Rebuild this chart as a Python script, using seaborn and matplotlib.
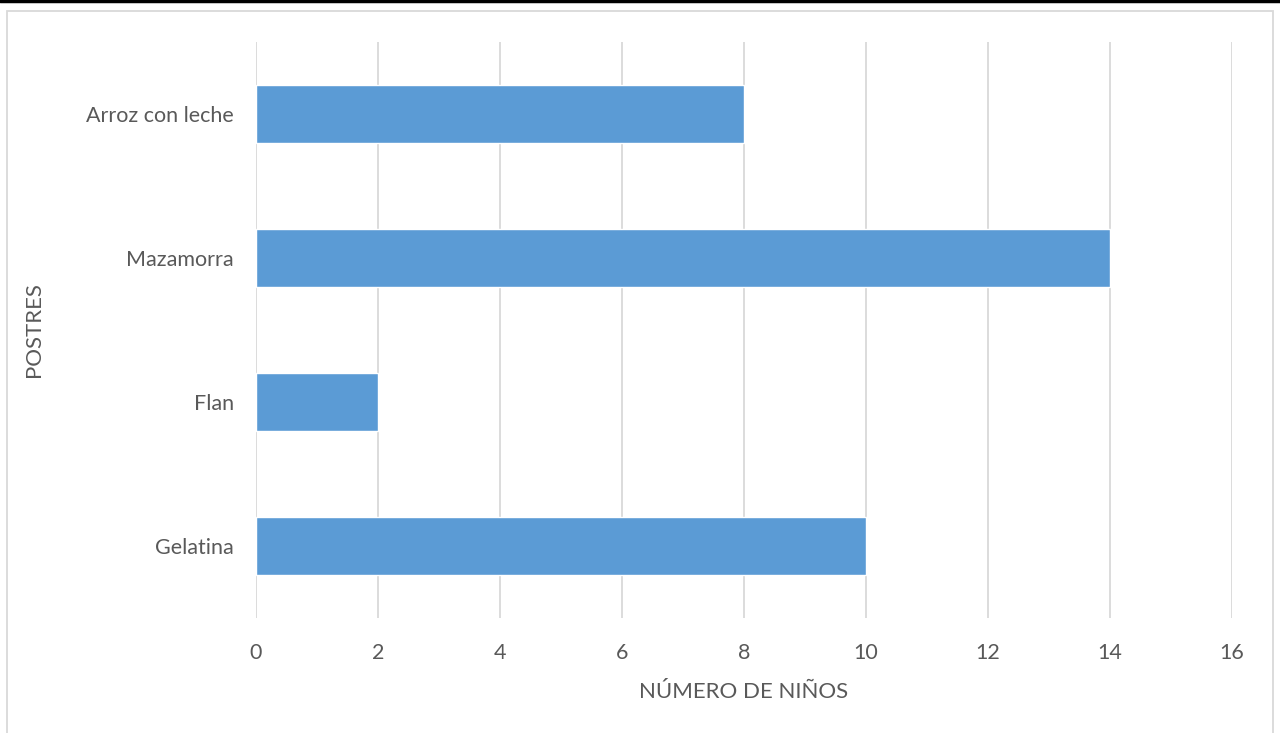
import matplotlib
matplotlib.use("Agg")
import matplotlib.pyplot as plt
import seaborn as sns
import pandas as pd
from matplotlib.patches import Rectangle
from matplotlib.lines import Line2D

postres = ["Arroz con leche", "Mazamorra", "Flan", "Gelatina"]
ninos = [8, 14, 2, 10]
x_ticks = [0, 2, 4, 6, 8, 10, 12, 14, 16]

df = pd.DataFrame({"postre": postres, "ninos": ninos})

sns.set_theme(style="white")
plt.rcParams["font.family"] = ["Lato", "DejaVu Sans"]
gray = "#595959"

fig = plt.figure(figsize=(12.8, 7.33), dpi=100)
ax = fig.add_axes([256 / 1280, 1 - 618 / 733, (1232 - 256) / 1280, (618 - 42) / 733])

sns.barplot(data=df, y="postre", x="ninos", orient="h", color="#5B9BD5",
            saturation=1, width=0.4, ax=ax, zorder=3)

ax.set_xlim(0, 16)
ax.set_ylim(3.5, -0.5)
ax.set_xticks(x_ticks)
ax.set_xticklabels([str(t) for t in x_ticks])
ax.grid(axis="x", color="#D9D9D9", linewidth=1.3, zorder=0)
ax.grid(axis="y", visible=False)
for s in ax.spines.values():
    s.set_visible(False)
ax.tick_params(axis="both", length=0, labelsize=15.5, labelcolor=gray)
ax.tick_params(axis="x", pad=18)
ax.tick_params(axis="y", pad=16)
ax.set_xlabel("NÚMERO DE NIÑOS", fontsize=16, color=gray, labelpad=14)
ax.set_ylabel("POSTRES", fontsize=16, color=gray)
ax.yaxis.set_label_coords((44 - 256) / 976, 0.5)

# chart frame and top edge
fig.patches.append(Rectangle((7 / 1280, -0.05), (1273 - 7) / 1280, 1.05 - 11 / 733,
                             transform=fig.transFigure, fill=False,
                             edgecolor="#D9D9D9", linewidth=1.3))
fig.lines.append(Line2D([0, 1], [1 - 1 / 733, 1 - 1 / 733], transform=fig.transFigure,
                        color="black", linewidth=2.5))

fig.savefig("out.png", dpi=100)
